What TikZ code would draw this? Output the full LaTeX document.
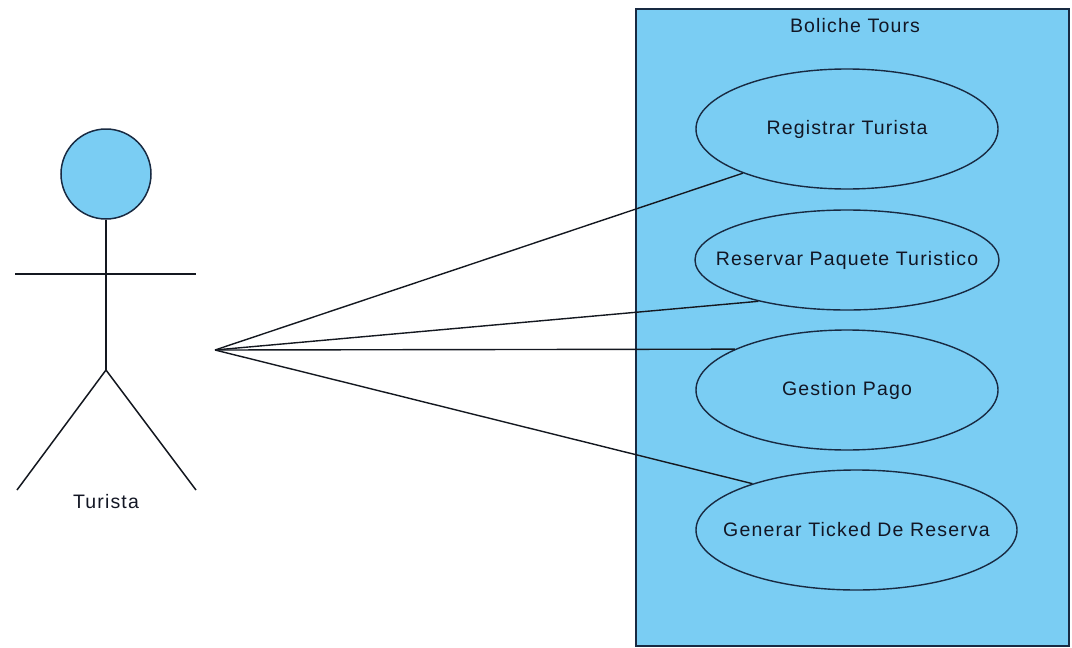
\documentclass[tikz,border=0pt]{standalone}
\usepackage{fontspec}
\usetikzlibrary{shapes.geometric}
\newfontfamily\lblfont{Liberation Sans}[LetterSpace=6]
\definecolor{ucfill}{RGB}{122,205,243}
\definecolor{ucline}{RGB}{24,42,66}
\definecolor{inkline}{RGB}{20,24,32}
\definecolor{txt}{RGB}{18,22,36}
\tikzset{
  lbl/.style={font=\lblfont\fontsize{19.5}{22}\selectfont, text=txt, inner sep=0},
  usecase/.style={ellipse, draw=ucline, line width=1.4pt, fill=ucfill, inner sep=0},
  stick/.style={draw=inkline, line width=1.5pt},
  assoc/.style={draw=inkline, line width=1.4pt},
}
\begin{document}
\begin{tikzpicture}[x=1pt, y=-1pt]
\useasboundingbox (0,0) rectangle (1072,648);

% system boundary
\draw[fill=ucfill, draw=ucline, line width=1.5pt] (636,9) rectangle (1069,646);
\node[lbl] (sysname) at (855,26) {Boliche Tours};

% use cases
\node[usecase, minimum width=302, minimum height=120, label={[lbl]center:Registrar Turista}] (uc1) at (847,129) {};
\node[usecase, minimum width=304, minimum height=100, label={[lbl]center:Reservar Paquete Turistico}] (uc2) at (847,260) {};
\node[usecase, minimum width=302, minimum height=120, label={[lbl]center:Gestion Pago}] (uc3) at (847,390) {};
\node[usecase, minimum width=321, minimum height=120, label={[lbl]center:Generar Ticked De Reserva}] (uc4) at (856.5,530) {};

% actor
\node[circle, draw=ucline, line width=1.5pt, fill=ucfill, minimum size=90, inner sep=0] (head) at (106,174) {};
\coordinate (hip) at (106,370);
\coordinate (armL) at (15,274);
\coordinate (armR) at (196,274);
\coordinate (footL) at (17,490);
\coordinate (footR) at (196,490);
\draw[stick] (head.south) -- (hip);
\draw[stick] (armL) -- (armR);
\draw[stick] (footL) -- (hip) -- (footR);
\node[lbl] (actorname) at (106,502) {Turista};

% associations
\coordinate (hub) at (215,350);
\draw[assoc] (hub) -- (uc1.203);
\draw[assoc] (hub) -- (uc2.205);
\draw[assoc] (hub) -- (uc3.160.7);
\draw[assoc] (hub) -- (uc4.156.3);
\end{tikzpicture}
\end{document}
